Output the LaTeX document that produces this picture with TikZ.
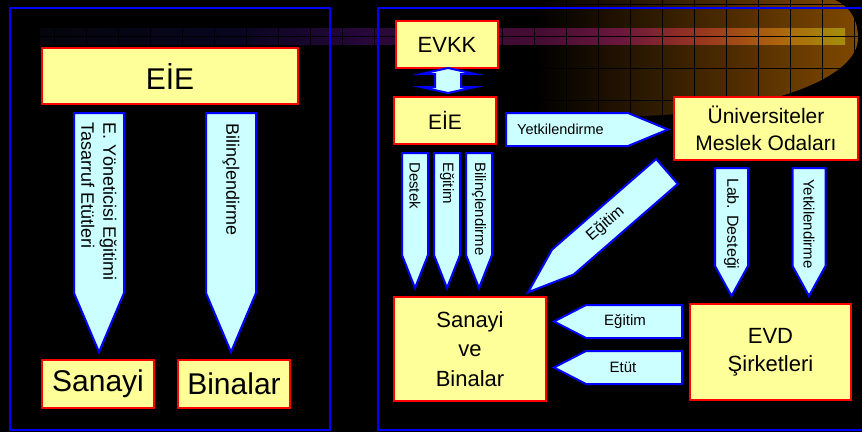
\documentclass[tikz,border=0pt]{standalone}
\usepackage{fontspec}
\setmainfont{Liberation Sans}
\usetikzlibrary{calc}
\definecolor{boxyellow}{RGB}{255,255,153}
\definecolor{arrowcyan}{RGB}{204,255,255}
\definecolor{cometmid}{RGB}{92,50,0}
\definecolor{cometend}{RGB}{128,72,0}
\pgfdeclarehorizontalshading{bandshade}{100bp}{
    rgb(0bp)=(0.02,0.02,0.05);
    rgb(25bp)=(0.02,0.02,0.05);
    rgb(37bp)=(0.03,0.02,0.12);
    rgb(45bp)=(0.15,0.03,0.22);
    rgb(56bp)=(0.27,0.05,0.20);
    rgb(61bp)=(0.42,0.09,0.24);
    rgb(66bp)=(0.60,0.21,0.12);
    rgb(71bp)=(0.68,0.40,0.05);
    rgb(75bp)=(0.64,0.56,0.05);
    rgb(100bp)=(0.64,0.56,0.05)}
\tikzset{
    panel/.style={draw=blue, line width=2pt},
    gridline/.style={draw=black, line width=0.8pt},
    box/.style={
        rectangle, draw=red, fill=boxyellow, line width=2pt,
        inner sep=0pt, align=center
    },
    barrow/.style={draw=blue, fill=arrowcyan, line width=2pt, line join=miter},
    lbl/.style={inner sep=0pt, align=left},
    % block arrow: length / width / head length, pointing along +x from the tail
    pics/blockarrow/.style args={#1/#2/#3}{code={
        \draw[barrow] (0,-#2/2) -- (#1-#3,-#2/2) -- (#1,0) -- (#1-#3,#2/2) -- (0,#2/2) -- cycle;
    }}
}

\begin{document}
\begin{tikzpicture}[x=1pt,y=-1pt]
\useasboundingbox (0,0) rectangle (862,432);
\fill[black] (0,0) rectangle (862,432);

% ---- backdrop: glow, band and grid ----
\shade[left color=black, middle color=cometmid, right color=cometend]
    (535,0) -- (835,0) .. controls (852,8) and (858,22) .. (858,38)
    .. controls (858,70) and (800,100) .. (700,112)
    .. controls (640,118) and (580,118) .. (535,116) -- cycle;
\shade[shading=bandshade] (40,28) rectangle (845,44);
\foreach \gx in {54,86,...,854}
    \draw[gridline] (\gx,0) -- (\gx,118);
\foreach \gy in {4,36,68,100}
    \draw[gridline] (40,\gy) -- (862,\gy);

% ---- panels ----
\draw[panel] (10,8) rectangle (330,430);
\draw[panel] (378,8) rectangle (880,430);

% ---- left panel ----
\node[box, minimum width=256, minimum height=56, font=\fontsize{30}{36}\selectfont] (eieL) at (170,76) {EİE};
\node[box, minimum width=112, minimum height=48, font=\fontsize{30}{36}\selectfont] (sanayi) at (98,384) {Sanayi};
\node[box, minimum width=112, minimum height=48, font=\fontsize{30}{36}\selectfont] (binalar) at (234,384) {Binalar};

\coordinate (aL1) at (99,113);
\coordinate (aL2) at (231,113);
\pic[rotate=-90] at (aL1) {blockarrow=239/50/59};
\pic[rotate=-90] at (aL2) {blockarrow=239/50/59};
\node[lbl, rotate=-90, anchor=west, font=\fontsize{18}{22}\selectfont] (tL1) at ($(aL1)+(0,9)$) {E. Yöneticisi Eğitimi\\Tasarruf Etütleri};
\node[lbl, rotate=-90, anchor=west, font=\fontsize{18}{22}\selectfont] (tL2) at ($(aL2)+(0,10)$) {Bilinçlendirme};

% ---- right panel: boxes ----
\node[box, minimum width=102, minimum height=47, font=\fontsize{22}{26}\selectfont] (evkk) at (447,44.5) {EVKK};
\node[box, minimum width=102, minimum height=47, font=\fontsize{21}{26}\selectfont] (eieR) at (445,120.5) {EİE};
\node[box, minimum width=184, minimum height=63, font=\fontsize{21}{27}\selectfont] (univ) at (766,128.5) {Üniversiteler\\Meslek Odaları};
\node[box, minimum width=152, minimum height=104, font=\fontsize{22}{29.5}\selectfont] (sanbin) at (470,349) {Sanayi\\ve\\Binalar};
\node[box, minimum width=161, minimum height=96, font=\fontsize{22}{28}\selectfont] (evd) at (770.5,352) {EVD\\Şirketleri};

% EVKK <-> EIE
\draw[barrow] (448,68) -- (475,74) -- (461,74) -- (461,87) -- (475,87) -- (448,93)
    -- (421,87) -- (435,87) -- (435,74) -- (421,74) -- cycle;

% EIE -> Universiteler
\coordinate (aYet) at (506,129.5);
\pic at (aYet) {blockarrow=162/33/40};
\node[lbl, anchor=west, font=\fontsize{14.5}{17}\selectfont] (tYet) at ($(aYet)+(11,0)$) {Yetkilendirme};

% EIE -> Sanayi ve Binalar
\coordinate (aDes) at (415,153);
\coordinate (aEgi) at (447,153);
\coordinate (aBil) at (479,153);
\foreach \a in {aDes,aEgi,aBil}
    \pic[rotate=-90] at (\a) {blockarrow=135/26/33};
\node[lbl, rotate=-90, anchor=west, font=\fontsize{15}{18}\selectfont] (tDes) at ($(aDes)+(0,9)$) {Destek};
\node[lbl, rotate=-90, anchor=west, font=\fontsize{15}{18}\selectfont] (tEgi) at ($(aEgi)+(0,9)$) {Eğitim};
\node[lbl, rotate=-90, anchor=west, font=\fontsize{15}{18}\selectfont] (tBil) at ($(aBil)+(0,9)$) {Bilinçlendirme};

% Universiteler -> Sanayi ve Binalar
\coordinate (aDiag) at (667,171.5);
\pic[rotate=221] at (aDiag) {blockarrow=184/33/46};
\node[lbl, rotate=41, font=\fontsize{16}{19}\selectfont] (tDiag) at (605.5,224) {Eğitim};

% Universiteler -> EVD
\coordinate (aLab) at (731.5,168);
\coordinate (aYet2) at (809,168);
\pic[rotate=-90] at (aLab) {blockarrow=128/33/30};
\pic[rotate=-90] at (aYet2) {blockarrow=128/33/30};
\node[lbl, rotate=-90, anchor=west, font=\fontsize{16}{19}\selectfont] (tLab) at ($(aLab)+(0,10)$) {Lab. Desteği};
\node[lbl, rotate=-90, anchor=west, font=\fontsize{15}{18}\selectfont] (tYet2) at ($(aYet2)+(0,11)$) {Yetkilendirme};

% EVD -> Sanayi ve Binalar
\coordinate (aEgi2) at (682,321.5);
\coordinate (aEtut) at (682,367.5);
\pic[rotate=180] at (aEgi2) {blockarrow=128/33/32};
\pic[rotate=180] at (aEtut) {blockarrow=128/33/32};
\node[lbl, font=\fontsize{15}{18}\selectfont] (tEgi2) at (625,321.5) {Eğitim};
\node[lbl, font=\fontsize{15}{18}\selectfont] (tEtut) at (623,367.5) {Etüt};

\end{tikzpicture}
\end{document}
